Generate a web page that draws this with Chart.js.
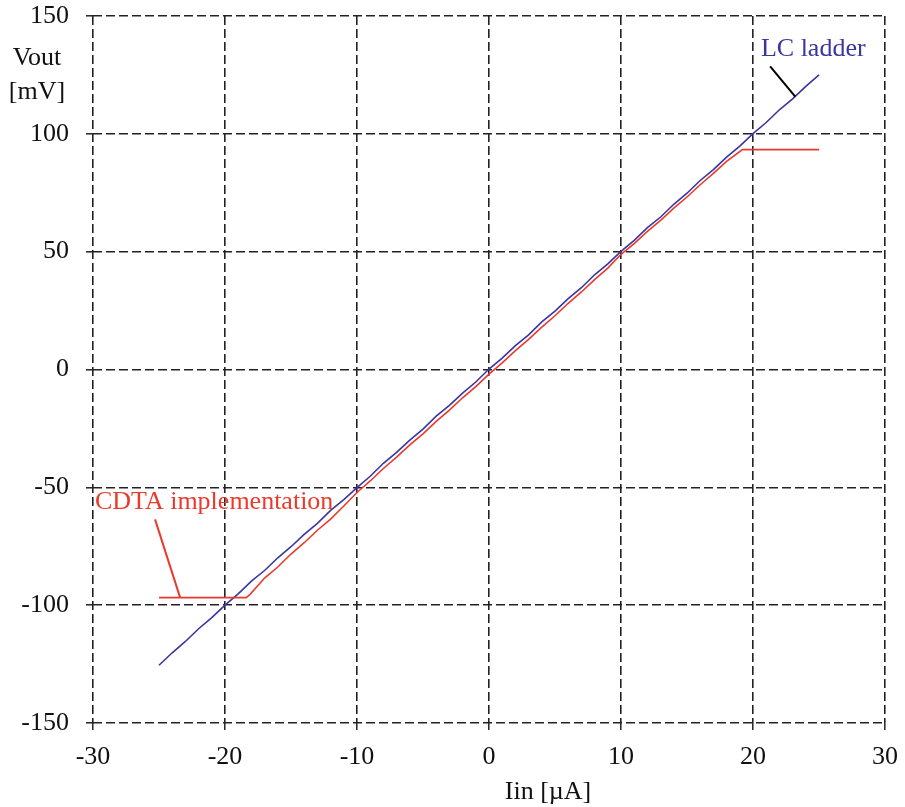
<!DOCTYPE html>
<html><head><meta charset="utf-8">
<script src="https://cdn.jsdelivr.net/npm/chart.js@4.4.1/dist/chart.umd.min.js"></script>
<style>html,body{margin:0;padding:0;background:#fff}#wrap{width:905px;height:807px}</style>
</head><body><div id="wrap"><canvas id="c" width="905" height="807"></canvas></div>
<script>
// LC ladder (blue) data
const ladderX = [-25,-24,-23,-22,-21,-20,-19,-18,-17,-16,-15,-14,-13,-12,-11,-10,-9,-8,-7,-6,-5,-4,-3,-2,-1,0,1,2,3,4,5,6,7,8,9,10,11,12,13,14,15,16,17,18,19,20,21,22,23,24,25];
const ladderY = [-125.5,-120.2,-115.4,-110.0,-105.3,-100.0,-95.2,-89.8,-85.3,-79.9,-75.2,-70.0,-65.3,-59.8,-55.2,-50.1,-45.3,-39.8,-35.2,-30.0,-25.3,-19.8,-15.2,-10.0,-5.3,0.2,4.8,10.1,14.7,20.2,24.8,30.1,34.7,40.2,44.8,50.1,54.8,60.2,64.7,70.1,74.8,80.2,84.8,90.1,94.8,100.1,104.8,110.2,114.8,120.1,125.0];
// CDTA implementation (red) data
const cdtaX = [-25,-18.4,-18.1,-17,-16,-15,-14,-13,-12,-11,-10,-9,-8,-7,-6,-5,-4,-3,-2,-1,0,1,2,3,4,5,6,7,8,9,10,11,12,13,14,15,16,17,18,19.2,25];
const cdtaY = [-96.8,-96.8,-95.4,-88.5,-83.8,-78.3,-73.5,-68.2,-63.5,-57.9,-52.2,-47.3,-42.0,-37.2,-32.0,-27.3,-22.0,-17.2,-12.0,-7.3,-2.0,2.8,8.0,12.8,18.0,22.8,28.1,32.9,38.1,43.0,48.9,53.4,58.6,63.3,68.5,73.2,78.4,83.2,88.3,93.3,93.3];
// Axis ticks
const xTicks = [-30,-20,-10,0,10,20,30];
const yTicks = [-150,-100,-50,0,50,100,150];

const toPts = (xs, ys) => xs.map((x, i) => ({x, y: ys[i]}));
const FONT = '"Liberation Serif", "Times New Roman", serif';
const BLUE = '#3a35a0';
const RED = '#ea3a2c';

const annot = {
  id: 'annot',
  afterDraw(chart) {
    const {ctx, scales: {x, y}} = chart;
    const P = (a, b) => [x.getPixelForValue(a), y.getPixelForValue(b)];
    ctx.save();
    ctx.lineWidth = 2;
    ctx.strokeStyle = '#000';
    let a = P(21.3, 128.6), b = P(23.2, 115.8);
    ctx.beginPath(); ctx.moveTo(a[0], a[1]); ctx.lineTo(b[0], b[1]); ctx.stroke();
    ctx.strokeStyle = RED;
    a = P(-25.3, -63.6); b = P(-23.4, -96.8);
    ctx.beginPath(); ctx.moveTo(a[0], a[1]); ctx.lineTo(b[0], b[1]); ctx.stroke();
    ctx.font = '26px ' + FONT;
    ctx.textBaseline = 'middle';
    ctx.textAlign = 'left';
    ctx.fillStyle = BLUE;
    let t = P(20.6, 135.8);
    ctx.fillText('LC ladder', t[0], t[1]);
    ctx.fillStyle = RED;
    t = P(-29.85, -56.4);
    ctx.fillText('CDTA implementation', t[0], t[1]);
    ctx.fillStyle = '#111';
    ctx.textAlign = 'center';
    ctx.fillText('Vout', 37, 58);
    ctx.fillText('[mV]', 37, 92);
    ctx.fillText('Iin [\u00b5A]', 548, 792);
    ctx.restore();
  }
};

new Chart(document.getElementById('c'), {
  type: 'line',
  data: {
    datasets: [
      {label: 'CDTA implementation', data: toPts(cdtaX, cdtaY), borderColor: RED, borderWidth: 1.6, pointRadius: 0, tension: 0, fill: false},
      {label: 'LC ladder', data: toPts(ladderX, ladderY), borderColor: BLUE, borderWidth: 1.6, pointRadius: 0, tension: 0, fill: false}
    ]
  },
  options: {
    responsive: false,
    animation: false,
    layout: {padding: {top: 16, right: 20, left: 0, bottom: 0}},
    plugins: {legend: {display: false}, tooltip: {enabled: false}},
    scales: {
      x: {
        type: 'linear', min: -30, max: 30,
        afterBuildTicks: s => { s.ticks = xTicks.map(v => ({value: v})); },
        afterFit: s => { s.height = 84; s.paddingLeft = 0; s.paddingRight = 0; },
        border: {display: false, dash: [9, 4]},
        grid: {color: '#222', lineWidth: 1.6, tickLength: 7, tickColor: '#222', tickWidth: 1.5, tickBorderDash: []},
        ticks: {color: '#111', font: {family: FONT, size: 26}, padding: 12, maxRotation: 0}
      },
      y: {
        type: 'linear', min: -150, max: 150,
        afterBuildTicks: s => { s.ticks = yTicks.map(v => ({value: v})); },
        afterFit: s => { s.width = 93; s.paddingTop = 0; s.paddingBottom = 0; },
        border: {display: false, dash: [9, 4]},
        grid: {color: '#222', lineWidth: 1.6, tickLength: 7, tickColor: '#222', tickWidth: 1.5, tickBorderDash: []},
        ticks: {color: '#111', font: {family: FONT, size: 26}, padding: 17}
      }
    }
  },
  plugins: [annot]
});
</script>
</body></html>
